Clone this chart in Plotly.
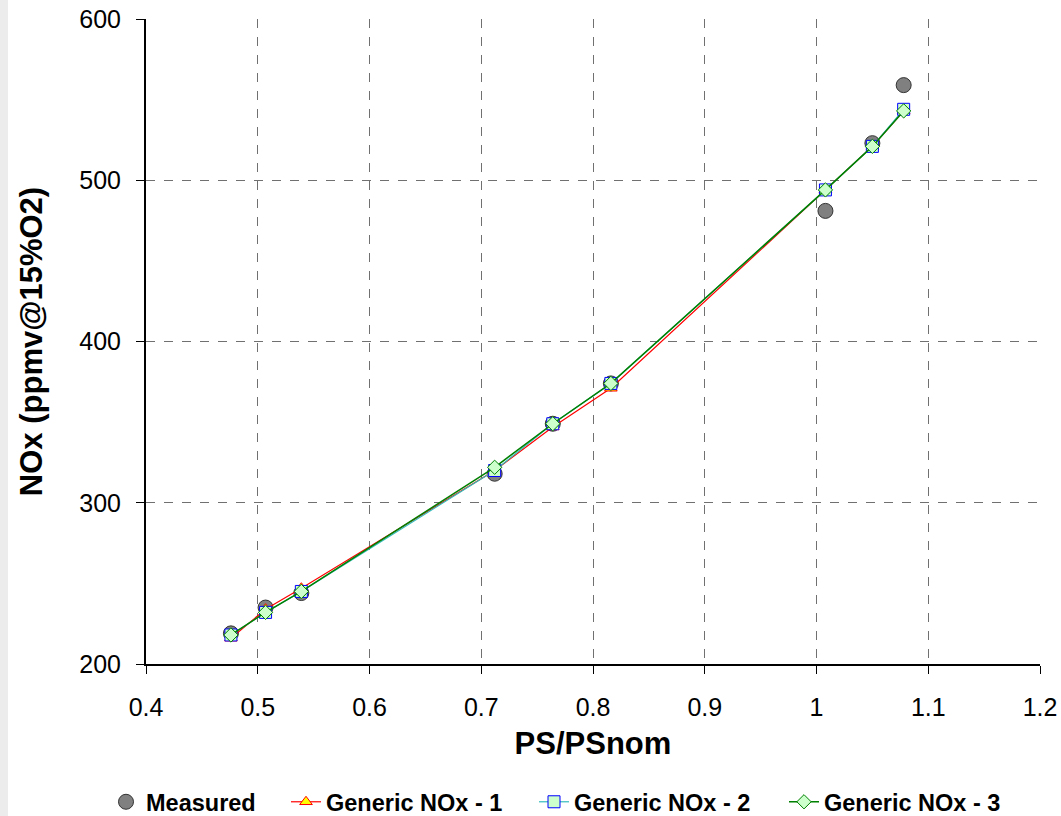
import plotly.graph_objects as go

ps = [0.476, 0.507, 0.539, 0.712, 0.764, 0.816, 1.008, 1.050, 1.078]
measured = [219, 235, 244, 318, 349, 374, 481, 523, 559]
generic1 = [216, 234, 247, 320, 347, 371, 494, 521, 543]
generic2 = [218, 232, 245, 320, 349, 374, 494, 521, 544]
generic3 = [218, 232, 245, 322, 349, 374, 494, 521, 543]

series_names = ["Measured", "Generic NOx - 1", "Generic NOx - 2", "Generic NOx - 3"]

x_ticks = [0.4, 0.5, 0.6, 0.7, 0.8, 0.9, 1.0, 1.1, 1.2]
x_labels = ["0.4", "0.5", "0.6", "0.7", "0.8", "0.9", "1", "1.1", "1.2"]
y_ticks = [200, 300, 400, 500, 600]

fig = go.Figure()
fig.add_trace(go.Scatter(x=ps, y=measured, mode="markers", name=series_names[0],
                         legend="legend",
                         marker=dict(symbol="circle", size=15, color="#808080",
                                     line=dict(color="#333333", width=1))))
fig.add_trace(go.Scatter(x=ps, y=generic1, mode="lines+markers", name=series_names[1],
                         legend="legend2",
                         line=dict(color="#ff0000", width=1.2),
                         marker=dict(symbol="triangle-up", size=11, color="#ffff00",
                                     line=dict(color="#ff0000", width=1))))
fig.add_trace(go.Scatter(x=ps, y=generic2, mode="lines+markers", name=series_names[2],
                         legend="legend3",
                         line=dict(color="#33bbbb", width=1.2),
                         marker=dict(symbol="square", size=12, color="#ccffcc",
                                     line=dict(color="#0000ff", width=1))))
fig.add_trace(go.Scatter(x=ps, y=generic3, mode="lines+markers", name=series_names[3],
                         legend="legend4",
                         line=dict(color="#008000", width=1.5),
                         marker=dict(symbol="diamond", size=11, color="#ccffcc",
                                     line=dict(color="#008000", width=1))))

PW, PH = 894, 645
L, T = 146, 19
leg_y = (T + PH - 802) / PH


def legend_at(px):
    return dict(orientation="h", x=(px - L) / PW, xanchor="left", y=leg_y, yanchor="middle",
                font=dict(size=23.5, family="Arial, Liberation Sans", weight="bold"),
                itemwidth=30, bgcolor="rgba(0,0,0,0)", borderwidth=0)


fig.update_layout(
    width=1061, height=816,
    paper_bgcolor="white", plot_bgcolor="white",
    margin=dict(l=L, r=21, t=T, b=152, autoexpand=False),
    font=dict(family="Arial, Liberation Sans", size=25, color="black"),
    showlegend=True,
    legend=legend_at(106),
    legend2=legend_at(286),
    legend3=legend_at(534),
    legend4=legend_at(784),
    shapes=[dict(type="rect", xref="paper", yref="paper",
                 x0=-L / PW, x1=-(L - 8) / PW, y0=-152 / PH, y1=1 + T / PH,
                 fillcolor="#ececec", line=dict(width=0), layer="below")],
)
fig.update_xaxes(range=[0.4, 1.2], tickvals=x_ticks, ticktext=x_labels,
                 automargin=False, ticklabelstandoff=12,
                 showline=True, linecolor="black", linewidth=2,
                 ticks="outside", ticklen=8, tickcolor="black", tickwidth=1,
                 showgrid=True, gridcolor="#707070", griddash="dash", gridwidth=1,
                 zeroline=False,
                 title=dict(text="<b>PS/PSnom</b>", font=dict(size=31), standoff=12))
fig.update_yaxes(range=[200, 600], tickvals=y_ticks,
                 automargin=False, ticklabelstandoff=10,
                 showline=True, linecolor="black", linewidth=2,
                 ticks="outside", ticklen=8, tickcolor="black", tickwidth=1,
                 showgrid=True, gridcolor="#707070", griddash="dash", gridwidth=1,
                 zeroline=False,
                 title=dict(text="<b>NOx (ppmv@15%O2)</b>", font=dict(size=31), standoff=27))

fig.write_html("out.html", config={"displayModeBar": False},
               post_script="document.body.style.margin='0px';document.body.style.overflow='hidden';")
